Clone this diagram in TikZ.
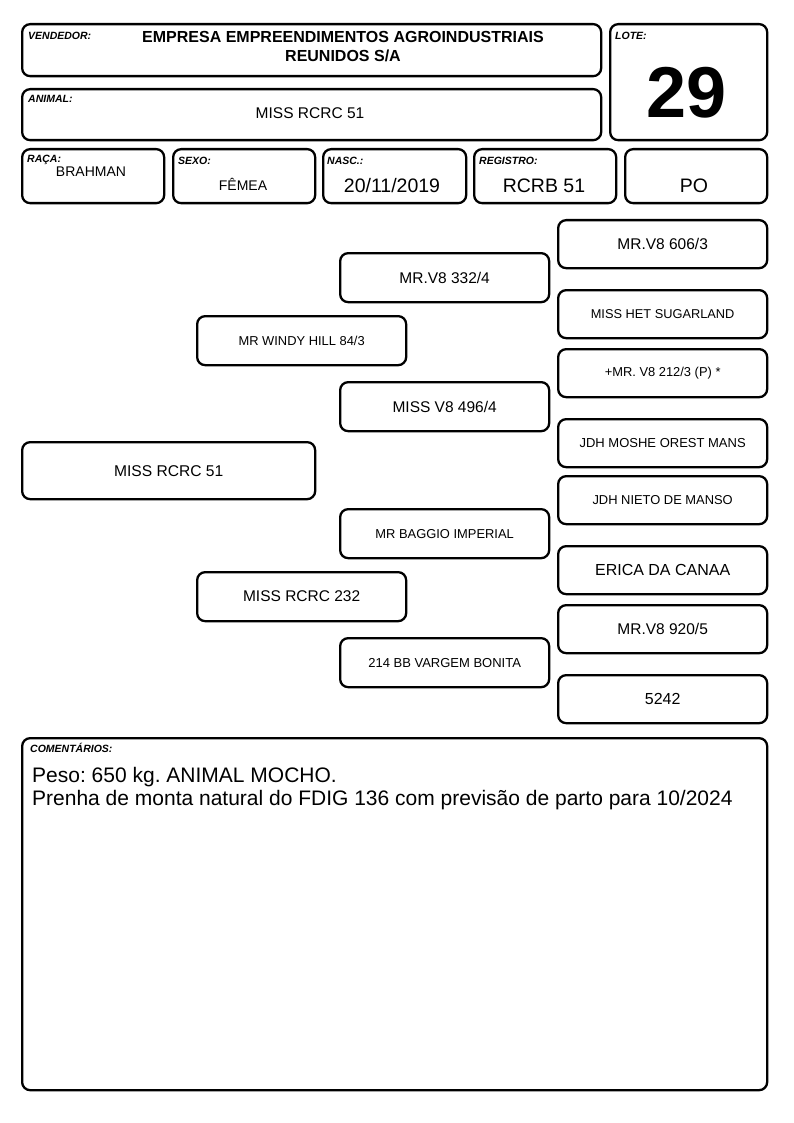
\documentclass[tikz,border=0pt]{standalone}
\usepackage{fontspec}
\setmainfont{Liberation Sans}
\frenchspacing
\newcommand\fsz[1]{\fontsize{#1}{#1}\selectfont}
\begin{document}
\begin{tikzpicture}[x=1pt,y=-1pt,
  box/.style={draw, line width=2.3pt, rounded corners=8pt, inner sep=0pt, anchor=north west, align=center},
  pbox/.style={box, minimum width=209, minimum height=49},
  qbox/.style={box, minimum width=209, minimum height=48},
  lbl/.style={anchor=north west, inner sep=0pt, font=\bfseries\itshape\fsz{10.5}},
  txt/.style={inner sep=0pt, align=center}]
\useasboundingbox (0,0) rectangle (794,1123);
% header boxes
\node[box, minimum width=579, minimum height=52] (vend) at (21,23) {};
\node[box, minimum width=157, minimum height=116] (lote) at (609,23) {};
\node[box, minimum width=579, minimum height=51] (animal) at (21,88) {};
\node[box, minimum width=142, minimum height=54] (raca) at (21,148) {};
\node[box, minimum width=142, minimum height=54] (sexo) at (172,148) {};
\node[box, minimum width=143, minimum height=54] (nasc) at (322,148) {};
\node[box, minimum width=142, minimum height=54] (reg) at (473,148) {};
\node[box, minimum width=142, minimum height=54] (po) at (624,148) {};
% labels
\node[lbl] (lvend) at (28,31.5) {VENDEDOR:};
\node[lbl] (llote) at (615,31.5) {LOTE:};
\node[lbl] (lanimal) at (28,95.5) {ANIMAL:};
\node[lbl] (lraca) at (27,154.5) {RAÇA:};
\node[lbl] (lsexo) at (178,156.5) {SEXO:};
\node[lbl] (lnasc) at (327,156.5) {NASC.:};
\node[lbl] (lreg) at (479,156.5) {REGISTRO:};
% values
\node[txt, font=\bfseries\fontsize{16}{19}\selectfont, align=center] (tvend) at (343,46.5) {EMPRESA EMPREENDIMENTOS AGROINDUSTRIAIS\\REUNIDOS S/A};
\node[txt, font=\bfseries\fsz{72}] (tlote) at (687,93) {29};
\node[txt, font=\fsz{15.5}] (tanimal) at (310,113) {MISS RCRC 51};
\node[txt, font=\fsz{14}] (traca) at (91,172) {BRAHMAN};
\node[txt, font=\fsz{14}] (tsexo) at (243,184) {FÊMEA};
\node[txt, font=\fsz{19.5}] (tnasc) at (392,186) {20/11/2019};
\node[txt, font=\fsz{19.5}] (treg) at (544,186) {RCRB 51};
\node[txt, font=\fsz{19.5}] (tpo) at (694,186) {PO};
% pedigree
\node[box, minimum width=293, minimum height=57, font=\fsz{15.6}] (p1) at (21,441) {MISS RCRC 51};
\node[pbox, font=\fsz{12.9}] (p2) at (196,315) {MR WINDY HILL 84/3};
\node[pbox, font=\fsz{15.5}] (p3) at (196,571) {MISS RCRC 232};
\node[pbox, font=\fsz{15.5}] (p4) at (339,252) {MR.V8 332/4};
\node[pbox, font=\fsz{15.5}] (p5) at (339,381) {MISS V8 496/4};
\node[pbox, font=\fsz{12.9}] (p6) at (339,508) {MR BAGGIO IMPERIAL};
\node[pbox, font=\fsz{13}] (p7) at (339,637) {214 BB VARGEM BONITA};
\node[qbox, font=\fsz{15.5}] (q1) at (557,219) {MR.V8 606/3};
\node[qbox, font=\fsz{12.8}] (q2) at (557,289) {MISS HET SUGARLAND};
\node[qbox, font=\fsz{12.9}] (q3) at (557,348) {+MR. V8 212/3 (P) *};
\node[qbox, font=\fsz{13}] (q4) at (557,418) {JDH MOSHE OREST MANS};
\node[qbox, font=\fsz{12.9}] (q5) at (557,475) {JDH NIETO DE MANSO};
\node[qbox, font=\fsz{16}] (q6) at (557,545) {ERICA DA CANAA};
\node[qbox, font=\fsz{15.5}] (q7) at (557,604) {MR.V8 920/5};
\node[qbox, font=\fsz{16}] (q8) at (557,674) {5242};
% comments
\node[box, minimum width=745, minimum height=352] (com) at (21,737) {};
\node[lbl] (lcom) at (30,743) {COMENTÁRIOS:};
\node[anchor=base west, inner sep=0pt, font=\fsz{21}] (tcom1) at (32,782) {Peso: 650 kg. ANIMAL MOCHO.};
\node[anchor=base west, inner sep=0pt, font=\fsz{21}] (tcom2) at (32,805) {Prenha de monta natural do FDIG 136 com previsão de parto para 10/2024};
\end{tikzpicture}
\end{document}
